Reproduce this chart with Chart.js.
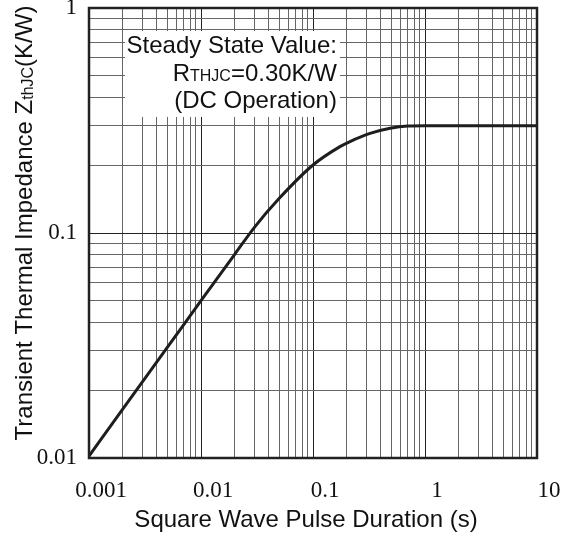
<!DOCTYPE html>
<html>
<head>
<meta charset="utf-8">
<script src="https://cdn.jsdelivr.net/npm/chart.js@4"></script>
<style>
  html, body { margin: 0; padding: 0; background: #fff; }
</style>
</head>
<body>
<canvas id="zthChart" width="568" height="537"></canvas>
<script>
// Curve: pulse duration (s) -> Zth(j-c) (K/W)
const pulseDuration = [0.001, 0.002, 0.005, 0.01, 0.02, 0.03, 0.05, 0.1, 0.174, 0.214, 0.323, 0.487, 0.7, 1, 10];
const zthJC = [0.0102, 0.0165, 0.0310, 0.050, 0.0804, 0.106, 0.1426, 0.2005, 0.242, 0.255, 0.277, 0.292, 0.299, 0.30, 0.30];

// labelled ticks (all other decade steps only get a grid line)
const xTickLabels = ['0.001', '0.01', '0.1', '1', '10'];
const yTickLabels = ['0.01', '0.1', '1'];

// note box, given in data units
const noteBox = { x0: 0.0021, x1: 0.174, y0: 0.79, y1: 0.328 };

const sansFont = '"Liberation Sans", Arial, sans-serif';
const serifFont = '"Liberation Serif", "Times New Roman", serif';

// 1..9 steps in every decade
function decadeTicks(min, max) {
  const out = [];
  for (let e = Math.round(Math.log10(min)); e < Math.round(Math.log10(max)); e++) {
    for (let s = 1; s < 10; s++) out.push(+(s * Math.pow(10, e)).toPrecision(3));
  }
  out.push(max);
  return out;
}

function tickText(labels) {
  return value => labels.find(l => Math.abs(parseFloat(l) - value) < value * 1e-6) || '';
}

// draw a run of text pieces [text, size, dy] starting at x
function drawRun(ctx, parts, x, y) {
  parts.forEach(([t, size, dy]) => {
    ctx.font = size + 'px ' + sansFont;
    ctx.fillText(t, x, y + dy);
    x += ctx.measureText(t).width;
  });
}
function runWidth(ctx, parts) {
  return parts.reduce((w, [t, size]) => {
    ctx.font = size + 'px ' + sansFont;
    return w + ctx.measureText(t).width;
  }, 0);
}

const decorPlugin = {
  id: 'decor',
  beforeDatasetsDraw(chart) {
    const { ctx, scales: { x, y } } = chart;
    // white note box over the grid
    const l = x.getPixelForValue(noteBox.x0), r = x.getPixelForValue(noteBox.x1);
    const t = y.getPixelForValue(noteBox.y0), b = y.getPixelForValue(noteBox.y1);
    ctx.save();
    ctx.fillStyle = '#fff';
    ctx.fillRect(l, t, r - l, b - t);
    ctx.fillStyle = '#111';
    ctx.textBaseline = 'alphabetic';
    const lines = [
      [['Steady State Value:', 24, 0]],
      [['R', 24, 0], ['T', 16, 0], ['HJC', 16, 0], ['=0.30K/W', 24, 0]],
      [['(DC Operation)', 24, 0]]
    ];
    lines.forEach((parts, i) => {
      const w = runWidth(ctx, parts);
      drawRun(ctx, parts, r - 3 - w, t + 22 + i * 27.5);
    });
    ctx.restore();
  },
  afterDraw(chart) {
    const { ctx, chartArea: a } = chart;
    ctx.save();
    // plot frame
    ctx.strokeStyle = '#222';
    ctx.lineWidth = 2.5;
    ctx.strokeRect(a.left, a.top, a.right - a.left, a.bottom - a.top);

    ctx.fillStyle = '#111';
    ctx.textBaseline = 'alphabetic';
    // x title
    const xParts = [['Square Wave Pulse Duration (s)', 24, 0]];
    drawRun(ctx, xParts, 306 - runWidth(ctx, xParts) / 2, 527);
    // y title, rotated
    const yParts = [['Transient Thermal Impedance Z', 24, 0], ['thJC', 16, 1], ['(K/W)', 24, 0]];
    ctx.translate(32, 223);
    ctx.rotate(-Math.PI / 2);
    drawRun(ctx, yParts, -runWidth(ctx, yParts) / 2, 0);
    ctx.restore();
  }
};

const gridColor = c => (c.tick && xTickLabels.concat(yTickLabels).some(l => Math.abs(parseFloat(l) - c.tick.value) < 1e-9) ? '#222' : '#666');

new Chart(document.getElementById('zthChart'), {
  type: 'line',
  data: {
    datasets: [{
      data: pulseDuration.map((t, i) => ({ x: t, y: zthJC[i] })),
      borderColor: '#1e1e1e',
      borderWidth: 3,
      pointRadius: 0,
      cubicInterpolationMode: 'monotone'
    }]
  },
  options: {
    responsive: false,
    animation: false,
    layout: { padding: { left: 0, top: 8, right: 31, bottom: 0 } },
    plugins: { legend: { display: false }, tooltip: { enabled: false } },
    scales: {
      x: {
        type: 'logarithmic',
        min: 0.001,
        max: 10,
        afterBuildTicks: s => { s.ticks = decadeTicks(0.001, 10).map(v => ({ value: v })); },
        afterFit: s => { s.height = 79; s.paddingLeft = 0; s.paddingRight = 0; },
        border: { display: false },
        grid: { color: gridColor, lineWidth: 1, drawTicks: false },
        ticks: {
          autoSkip: false,
          maxRotation: 0,
          padding: 19,
          labelOffset: 12,
          color: '#111',
          font: { family: serifFont, size: 23 },
          callback: tickText(xTickLabels)
        }
      },
      y: {
        type: 'logarithmic',
        min: 0.01,
        max: 1,
        afterBuildTicks: s => { s.ticks = decadeTicks(0.01, 1).map(v => ({ value: v })); },
        afterFit: s => { s.width = 89; s.paddingTop = 0; s.paddingBottom = 0; },
        border: { display: false },
        grid: { color: gridColor, lineWidth: 1, drawTicks: false },
        ticks: {
          autoSkip: false,
          padding: 12,
          color: '#111',
          font: { family: serifFont, size: 23 },
          callback: tickText(yTickLabels)
        }
      }
    }
  },
  plugins: [decorPlugin]
});
</script>
</body>
</html>
